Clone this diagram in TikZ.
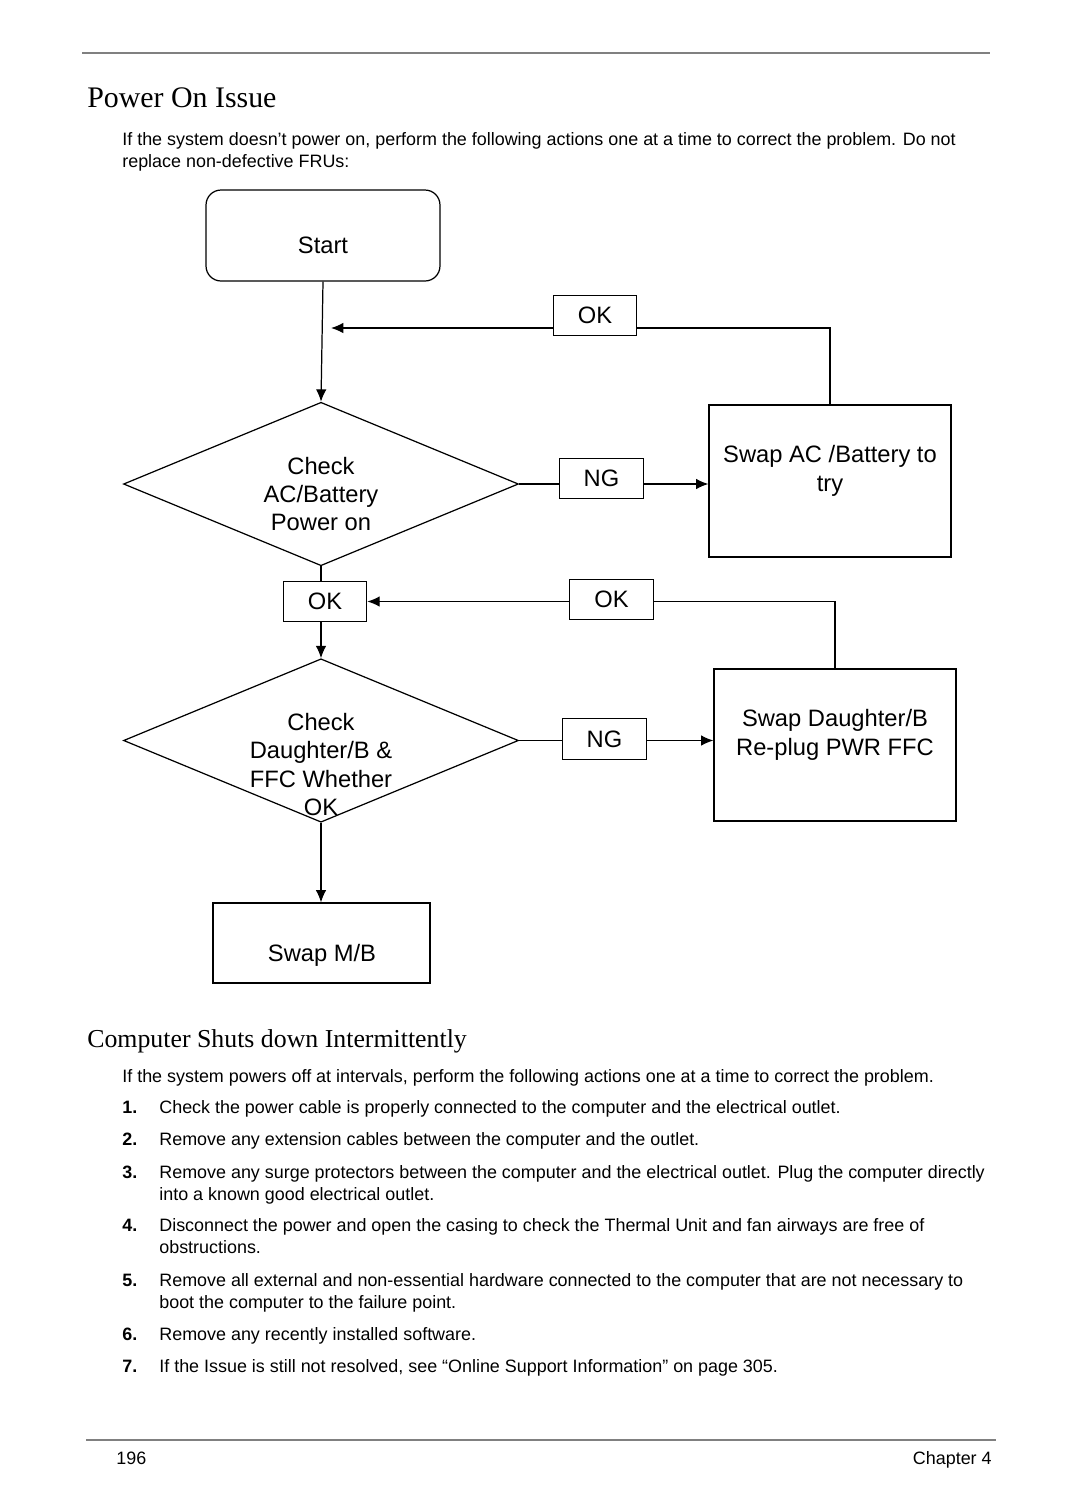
\documentclass[tikz,border=0pt]{standalone}
\usepackage{fontspec}
\setmainfont{Liberation Sans}
\newfontfamily\headfont{Liberation Serif}
\usetikzlibrary{shapes.geometric,arrows.meta}

\tikzset{
  box/.style={draw, line width=0.7pt, inner sep=0pt},
  tag/.style={box, minimum width=1.67cm, minimum height=0.81cm, font=\fontsize{13.5}{16.2}\selectfont},
  chk/.style={draw, diamond, line width=0.7pt, inner sep=0pt, minimum width=7.9cm, minimum height=3.27cm},
  flowtxt/.style={align=center, inner sep=0pt, font=\fontsize{13.5}{16.2}\selectfont},
  bodytxt/.style={anchor=base west, align=left, inner sep=0pt, font=\fontsize{10.2}{12.5}\selectfont},
  numtxt/.style={anchor=base west, inner sep=0pt, font=\fontsize{10.2}{12.5}\selectfont\bfseries},
  rule/.style={draw=gray, line width=1.2pt},
  link/.style={line width=0.7pt},
  arr/.style={link, -{Latex[length=7pt,width=6pt]}}
}

\begin{document}
\begin{tikzpicture}[x=0.02cm, y=-0.02cm]
    \fill[white] (0,0) rectangle (1080,1512);
    \useasboundingbox (0,0) rectangle (1080,1512);

    \draw[rule] (82,53) -- (990,53);
    \node[anchor=base west, inner sep=0pt, font=\headfont\fontsize{17}{20}\selectfont] (title) at (87,107) {Power On Issue};
    % base of a two-line node is its last line
    \node[bodytxt] (intro) at (122,167) {If the system doesn’t power on, perform the following actions one at a time to correct the problem. Do not\\replace non-defective FRUs:};

    \node[box, rounded corners=0.3cm, minimum width=4.68cm, minimum height=1.82cm] (start) at (323,235.5) {};
    \node[flowtxt] (startlbl) at (323,245) {Start};

    \node[tag] (ok1) at (595,315.5) {OK};
    \coordinate (j1) at (331,328);

    \node[chk] (d1) at (321,484) {};
    \node[flowtxt] (d1lbl) at (321,494) {Check\\AC/Battery\\Power on};
    \node[tag] (ng1) at (601.5,478.5) {NG};
    \node[box, minimum width=4.84cm, minimum height=3.04cm] (swapac) at (830,481) {};
    \node[flowtxt] (swapaclbl) at (830,471) {Swap AC /Battery to\\try};

    \node[tag] (ok2) at (325,601.5) {OK};
    \node[tag] (ok3) at (611.5,599.5) {OK};

    \node[chk] (d2) at (321,740.5) {};
    \node[flowtxt] (d2lbl) at (321,764.5) {Check\\Daughter/B \&\\FFC Whether\\OK};
    \node[tag] (ng2) at (604.5,739) {NG};
    \node[box, minimum width=4.84cm, minimum height=3.04cm] (swapdb) at (835,745) {};
    \node[flowtxt] (swapdblbl) at (835,735) {Swap Daughter/B\\Re-plug PWR FFC};

    \node[box, minimum width=4.34cm, minimum height=1.6cm] (swapmb) at (321.5,943) {};
    \node[flowtxt] (swapmblbl) at (322,955) {Swap M/B};

    \draw[arr] (start.south) -- (d1.north);
    \draw[arr] (ok1.west |- j1) -- (j1);
    \draw[link] (ok1.east |- j1) -| (swapac.north);
    \draw[link] (d1.east) -- (d1.east -| ng1.west);
    \draw[arr] (d1.east -| ng1.east) -- (d1.east -| swapac.west);
    \draw[link] (d1.south) -- (d1.south |- ok2.north);
    \draw[arr] (ok3.west |- ok2.east) -- (ok2.east);
    \draw[link] (ok3.east |- ok2.east) -| (swapdb.north);
    \draw[arr] (d2.north |- ok2.south) -- (d2.north);
    \draw[link] (d2.east) -- (d2.east -| ng2.west);
    \draw[arr] (d2.east -| ng2.east) -- (d2.east -| swapdb.west);
    \draw[arr] (d2.south) -- (d2.south |- swapmb.north);

    \node[anchor=base west, inner sep=0pt, font=\headfont\fontsize{14.7}{17}\selectfont] (subtitle) at (87,1047) {Computer Shuts down Intermittently};
    \node[bodytxt] (intro2) at (122,1082) {If the system powers off at intervals, perform the following actions one at a time to correct the problem.};

    \node[numtxt] (n1) at (122,1113) {1.};
    \node[bodytxt] (s1) at (159,1113) {Check the power cable is properly connected to the computer and the electrical outlet.};
    \node[numtxt] (n2) at (122,1145) {2.};
    \node[bodytxt] (s2) at (159,1145) {Remove any extension cables between the computer and the outlet.};
    \node[numtxt] (n3) at (122,1178) {3.};
    \node[bodytxt] (s3) at (159,1200) {Remove any surge protectors between the computer and the electrical outlet. Plug the computer directly\\into a known good electrical outlet.};
    \node[numtxt] (n4) at (122,1231) {4.};
    \node[bodytxt] (s4) at (159,1253) {Disconnect the power and open the casing to check the Thermal Unit and fan airways are free of\\obstructions.};
    \node[numtxt] (n5) at (122,1286) {5.};
    \node[bodytxt] (s5) at (159,1308) {Remove all external and non-essential hardware connected to the computer that are not necessary to\\boot the computer to the failure point.};
    \node[numtxt] (n6) at (122,1340) {6.};
    \node[bodytxt] (s6) at (159,1340) {Remove any recently installed software.};
    \node[numtxt] (n7) at (122,1372) {7.};
    \node[bodytxt] (s7) at (159,1372) {If the Issue is still not resolved, see “Online Support Information” on page 305.};

    \draw[rule] (86,1440) -- (996,1440);
    \node[anchor=base west, inner sep=0pt, font=\fontsize{10.2}{12}\selectfont] (pgno) at (116,1464) {196};
    \node[anchor=base east, inner sep=0pt, font=\fontsize{10.2}{12}\selectfont] (chap) at (992,1464) {Chapter 4};
\end{tikzpicture}
\end{document}
